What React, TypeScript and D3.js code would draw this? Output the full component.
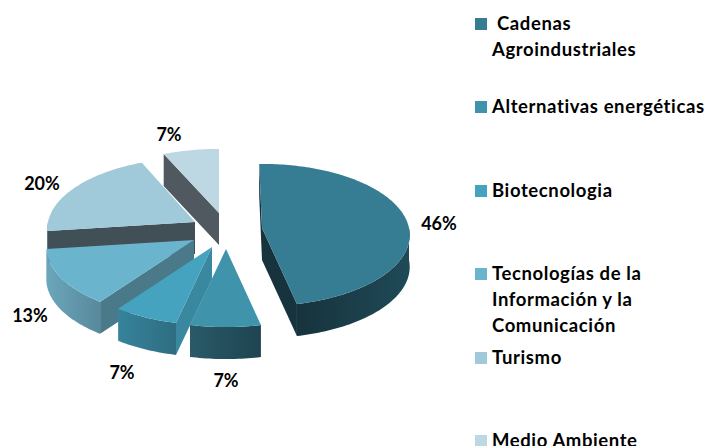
import React from 'react';
import * as d3 from 'd3';

const categories = [
  'Cadenas Agroindustriales',
  'Alternativas energéticas',
  'Biotecnología',
  'Tecnologías de la Información y la Comunicación',
  'Turismo',
  'Medio Ambiente',
];
const values = [46, 7, 7, 13, 20, 7];

// legend text is broken by hand like the original
const legendLines = [
  [' Cadenas', 'Agroindustriales'],
  ['Alternativas energéticas'],
  ['Biotecnologia'],
  ['Tecnologías de la', 'Información y la', 'Comunicación'],
  ['Turismo'],
  ['Medio Ambiente'],
];

const topColors = ['#367c92', '#3f93ab', '#45a3bf', '#6ab4cd', '#a0c9da', '#bed8e3'];
const wallFrom = ['#17333d', '#2a5a68', '#37839b', '#6ba6bb', '#7fa8b8', '#9fbcc8'];
const wallTo = ['#1f4a57', '#1e4450', '#2e6d81', '#58899c', '#7fa8b8', '#9fbcc8'];
const cutColors = ['#17333d', '#1e4450', '#3a87a0', '#4a7a8a', '#414f56', '#50595f'];

// where each exploded slice has its tip
const tips: [number, number][] = [[262, 228], [226, 249], [212, 247], [194, 240], [195, 222], [219, 213]];
// small angle nudges (degrees) for the distorted 3d look of the original
const startLean = [-1.2, 2, 2, 0, 0, 1];
const endLean = [2, 2, 0, 0, 2, 0];
const drawOrder = [5, 4, 3, 2, 1, 0];

const labelPos: [number, number][] = [[439, 230], [226, 387], [122, 379], [30, 322], [42, 190], [169, 141]];
const legendY = [30, 113, 197, 280, 364, 447];

const rx = 147;
const ry = 70.4;
const persp = 0.098;
const depth = 32;

const project = (a: number, tip: [number, number], dy = 0): [number, number] => {
  const u = Math.sin(a);
  const v = -Math.cos(a);
  const s = 1 / (1 - persp * v);
  return [tip[0] + rx * u * s, tip[1] + ry * v * s + dy];
};

const line = d3.line<[number, number]>();

const sample = (a0: number, a1: number) => {
  const n = Math.max(2, Math.ceil(Math.abs(a1 - a0) / 0.02));
  const t = d3.scaleLinear().domain([0, n]).range([a0, a1]);
  return d3.range(n + 1).map(i => t(i));
};

const App = () => {
  const arcs = d3.pie<number>().sort(null)(values);

  const slices = drawOrder.map(i => {
    const d = arcs[i];
    const tip = tips[i];
    const a0 = d.startAngle + (startLean[i] * Math.PI) / 180;
    const a1 = d.endAngle + (endLean[i] * Math.PI) / 180;
    const rim = sample(a0, a1).map(a => project(a, tip));
    const top = line([tip, ...rim]) + 'Z';

    // outer wall only on the front half
    const w0 = Math.max(a0, Math.PI / 2);
    const w1 = Math.min(a1, (3 * Math.PI) / 2);
    let wall = null;
    if (w1 > w0) {
      const upper = sample(w0, w1).map(a => project(a, tip));
      const lower = sample(w0, w1).map(a => project(a, tip, depth)).reverse();
      wall = line([...upper, ...lower]) + 'Z';
    }

    // cut faces that look towards the viewer
    const cuts: string[] = [];
    const addCut = (a: number) => {
      const p = project(a, tip);
      cuts.push(line([tip, p, [p[0], p[1] + depth], [tip[0], tip[1] + depth]]) + 'Z');
    };
    if (-Math.sin(a0) > 0.001) addCut(a0);
    if (Math.sin(a1) > 0.001) addCut(a1);

    return { i, top, wall, cuts };
  });

  return (
    <svg
      width={709}
      height={446}
      style={{ position: 'absolute', left: 0, top: 0, display: 'block', background: '#fff' }}
      fontFamily="Lato, 'Open Sans', sans-serif"
      fontWeight={700}
    >
      <defs>
        {categories.map((c, i) => (
          <linearGradient key={c} id={`wall${i}`} x1="0" x2="1" y1="0" y2="0">
            <stop offset="0" stopColor={wallFrom[i]} />
            <stop offset="1" stopColor={wallTo[i]} />
          </linearGradient>
        ))}
      </defs>

      {slices.map(s => (
        <g key={s.i}>
          {s.wall && <path d={s.wall} fill={`url(#wall${s.i})`} />}
          {s.cuts.map((c, k) => <path key={k} d={c} fill={cutColors[s.i]} />)}
          <path d={s.top} fill={topColors[s.i]} />
        </g>
      ))}

      {values.map((v, i) => (
        <text key={i} x={labelPos[i][0]} y={labelPos[i][1]} textAnchor="middle" fontSize={18} fill="#000">
          {v}%
        </text>
      ))}

      {legendLines.map((lines, i) => (
        <g key={i}>
          <rect x={475} y={legendY[i] - 12} width={12} height={12} fill={topColors[i]} />
          {lines.map((t, k) => (
            <text
              key={k}
              x={t.startsWith(' ') ? 497 : 492}
              y={legendY[i] + k * 26}
              fontSize={18.5}
              letterSpacing={0.6}
              fill="#000"
            >
              {t.trim()}
            </text>
          ))}
        </g>
      ))}
    </svg>
  );
};

export default App;
